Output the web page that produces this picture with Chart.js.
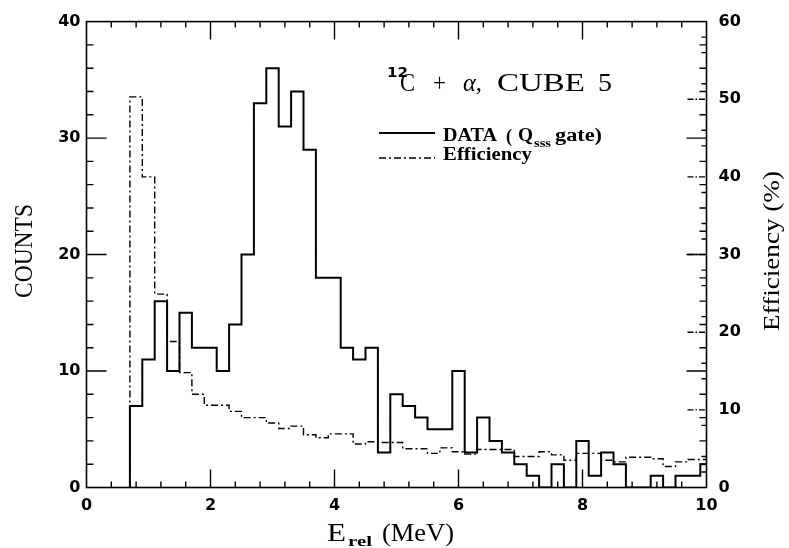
<!DOCTYPE html>
<html>
<head>
<meta charset="utf-8">
<script src="https://cdn.jsdelivr.net/npm/chart.js@4.4.0/dist/chart.umd.min.js"></script>
<style>
  html, body { margin: 0; padding: 0; background: #fff; }
  #wrap { width: 789px; height: 548px; }
</style>
</head>
<body>
<div id="wrap"><canvas id="spectrum" width="789" height="548"></canvas></div>
<script>
// histogram bin edges, E_rel in MeV
const binEdges = [0.7, 0.9, 1.1, 1.3, 1.5, 1.7, 1.9, 2.1, 2.3, 2.5, 2.7, 2.9, 3.1, 3.3, 3.5, 3.7,
    3.9, 4.1, 4.3, 4.5, 4.7, 4.9, 5.1, 5.3, 5.5, 5.7, 5.9, 6.1, 6.3, 6.5, 6.7, 6.9, 7.1, 7.3,
    7.5, 7.7, 7.9, 8.1, 8.3, 8.5, 8.7, 8.9, 9.1, 9.3, 9.5, 9.7, 9.9, 10.1];
// DATA (Q_sss gate), counts per bin
const counts = [7, 11, 16, 10, 15, 12, 12, 10, 14, 20, 33, 36, 31, 34, 29, 18, 18, 12, 11, 12,
    3, 8, 7, 6, 5, 5, 10, 3, 6, 4, 3, 2, 1, 0, 2, 0, 4, 1, 3, 2, 0, 0, 1, 0, 1, 1, 2];
// efficiency per bin, %
const efficiency = [50.3, 40.0, 24.9, 18.8, 14.8, 12.0, 10.6, 10.6, 9.8, 9.0, 9.0, 8.3, 7.6, 7.9,
    6.8, 6.4, 6.9, 6.9, 5.6, 5.9, 5.8, 5.8, 5.0, 5.0, 4.4, 5.1, 4.6, 4.3, 4.9, 4.9, 4.9, 4.0,
    4.0, 4.6, 4.2, 3.5, 4.4, 4.4, 3.5, 3.3, 3.9, 3.9, 3.7, 2.7, 3.3, 3.6, 3.6];

const xTicks = [0, 2, 4, 6, 8, 10];
const countTicks = [0, 10, 20, 30, 40];
const effTicks = [0, 10, 20, 30, 40, 50, 60];

const effDash = [7, 3, 2, 3];

function histPoints(values) {
    let pts = [{ x: binEdges[0], y: 0 }];
    values.forEach((v, i) => pts.push({ x: binEdges[i], y: v }));
    pts.push({ x: binEdges[values.length], y: values[values.length - 1] });
    return pts;
}

// draw text stretched horizontally to a given width
function fitText(ctx, text, x, y, font, width) {
    ctx.save();
    ctx.font = font;
    let w = ctx.measureText(text).width;
    ctx.translate(x, y);
    ctx.scale(width / w, 1);
    ctx.textAlign = 'left';
    ctx.textBaseline = 'alphabetic';
    ctx.fillText(text, 0, 0);
    ctx.restore();
}

function centerText(ctx, text, cx, cy, font, width, angle) {
    ctx.save();
    ctx.font = font;
    let w = ctx.measureText(text).width;
    ctx.translate(cx, cy);
    ctx.rotate(angle);
    ctx.scale(width / w, 1);
    ctx.textAlign = 'center';
    ctx.textBaseline = 'middle';
    ctx.fillText(text, 0, 0);
    ctx.restore();
}

const framePlugin = {
    id: 'frame',
    afterDatasetsDraw(chart) {
        const { ctx, chartArea: a, scales } = chart;
        const xs = scales.x, ys = scales.y, es = scales.y2;
        ctx.save();
        ctx.strokeStyle = '#000';
        ctx.fillStyle = '#000';
        ctx.lineWidth = 1.6;
        ctx.strokeRect(a.left, a.top, a.right - a.left, a.bottom - a.top);

        ctx.lineWidth = 1.4;
        ctx.beginPath();
        // energy ticks, bottom and top
        for (let i = 1; i < 25; i++) {
            let px = xs.getPixelForValue(i * 0.4);
            let len = i % 5 === 0 ? 18 : 6;
            ctx.moveTo(px, a.bottom); ctx.lineTo(px, a.bottom - len);
            ctx.moveTo(px, a.top); ctx.lineTo(px, a.top + len);
        }
        // counts ticks, left and right
        for (let i = 1; i < 20; i++) {
            let py = ys.getPixelForValue(i * 2);
            let len = i % 5 === 0 ? 20 : 7;
            ctx.moveTo(a.left, py); ctx.lineTo(a.left + len, py);
            ctx.moveTo(a.right, py); ctx.lineTo(a.right - len, py);
        }
        // efficiency minor ticks on the right
        for (let i = 1; i < 30; i++) {
            if (i % 5 === 0) continue;
            let py = es.getPixelForValue(i * 2);
            ctx.moveTo(a.right, py); ctx.lineTo(a.right - 5, py);
        }
        ctx.stroke();
        // efficiency major ticks, dash-dot
        ctx.beginPath();
        ctx.setLineDash([6, 2, 1.5, 2]);
        for (let i = 1; i < 6; i++) {
            let py = es.getPixelForValue(i * 10);
            ctx.moveTo(a.right - 19, py); ctx.lineTo(a.right, py);
        }
        ctx.stroke();
        ctx.setLineDash([]);

        // title
        fitText(ctx, '12', 387, 77, 'bold 14px "DejaVu Sans"', 21);
        fitText(ctx, 'C', 400, 91, '25px "Liberation Serif"', 15);
        fitText(ctx, '+', 433, 91, '25px "Liberation Serif"', 13);
        fitText(ctx, 'α,', 463, 91, 'italic 25px "Liberation Serif"', 19);
        fitText(ctx, 'CUBE', 497, 91, '25px "Liberation Serif"', 88);
        fitText(ctx, '5', 598, 91, '25px "Liberation Serif"', 14);

        // legend
        ctx.lineWidth = 2;
        ctx.beginPath();
        ctx.moveTo(379, 133); ctx.lineTo(435, 133);
        ctx.stroke();
        ctx.lineWidth = 1.4;
        ctx.setLineDash(effDash);
        ctx.beginPath();
        ctx.moveTo(379, 158); ctx.lineTo(435, 158);
        ctx.stroke();
        ctx.setLineDash([]);
        const lf = 'bold 18px "Liberation Serif"';
        fitText(ctx, 'DATA', 443, 141, lf, 54);
        fitText(ctx, '(', 506, 142, lf, 6);
        fitText(ctx, 'Q', 518, 141, lf, 15);
        fitText(ctx, 'sss', 534, 147, 'bold 12px "Liberation Serif"', 17);
        fitText(ctx, 'gate)', 555, 141, lf, 47);
        fitText(ctx, 'Efficiency', 443, 160, lf, 89);

        // axis titles
        fitText(ctx, 'E', 327, 541, '25px "Liberation Serif"', 19);
        fitText(ctx, 'rel', 348, 546, 'bold 15px "Liberation Serif"', 24);
        fitText(ctx, '(MeV)', 382, 541, '25px "Liberation Serif"', 72);
        centerText(ctx, 'COUNTS', 25, 251, '25px "Liberation Serif"', 94, -Math.PI / 2);
        centerText(ctx, 'Efficiency (%)', 773, 251, '24px "Liberation Serif"', 160, -Math.PI / 2);
        ctx.restore();
    }
};

const tickFont = { family: 'DejaVu Sans', size: 16, weight: 'bold' };

new Chart(document.getElementById('spectrum'), {
    type: 'line',
    data: {
        datasets: [
            {
                label: 'DATA',
                data: histPoints(counts),
                yAxisID: 'y',
                stepped: 'before',
                borderColor: '#000',
                borderWidth: 2,
                pointRadius: 0,
                fill: false
            },
            {
                label: 'Efficiency',
                data: histPoints(efficiency),
                yAxisID: 'y2',
                stepped: 'before',
                borderColor: '#000',
                borderWidth: 1.4,
                borderDash: effDash,
                pointRadius: 0,
                fill: false
            }
        ]
    },
    options: {
        responsive: false,
        animation: false,
        devicePixelRatio: 1,
        layout: { padding: { top: 15, left: 0, right: 0, bottom: 0 } },
        plugins: {
            legend: { display: false },
            tooltip: { enabled: false }
        },
        scales: {
            x: {
                type: 'linear',
                min: 0,
                max: 10,
                grid: { display: false, drawTicks: false },
                border: { display: false },
                afterBuildTicks: s => { s.ticks = xTicks.map(v => ({ value: v })); },
                afterFit: s => { s.height = 60.5; },
                ticks: { color: '#000', font: tickFont, padding: 9, maxRotation: 0 }
            },
            y: {
                type: 'linear',
                position: 'left',
                min: 0,
                max: 40,
                grid: { display: false, drawTicks: false },
                border: { display: false },
                afterBuildTicks: s => { s.ticks = countTicks.map(v => ({ value: v })); },
                afterFit: s => { s.width = 86.5; },
                ticks: { color: '#000', font: tickFont, padding: 6 }
            },
            y2: {
                type: 'linear',
                position: 'right',
                min: 0,
                max: 60,
                grid: { display: false, drawTicks: false },
                border: { display: false },
                afterBuildTicks: s => { s.ticks = effTicks.map(v => ({ value: v })); },
                afterFit: s => { s.width = 82.5; },
                ticks: { color: '#000', font: tickFont, padding: 12 }
            }
        }
    },
    plugins: [framePlugin]
});
</script>
</body>
</html>
